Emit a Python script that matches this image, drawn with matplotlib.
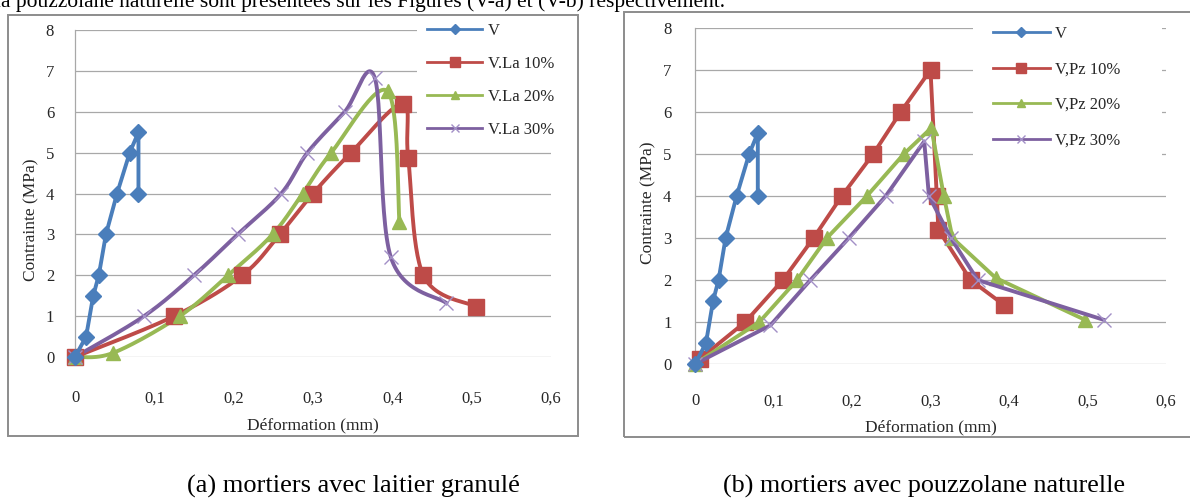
import numpy as np
import matplotlib
matplotlib.use("Agg")
import matplotlib.pyplot as plt
from matplotlib.lines import Line2D
from matplotlib.patches import Rectangle

plt.rcParams['font.family'] = ['Liberation Serif', 'DejaVu Serif']

# ---------------- data ----------------
# control mortar (same in both panels)
v_x = [0.0, 0.014, 0.023, 0.030, 0.039, 0.053, 0.069, 0.080, 0.080]
v_y = [0.0, 0.5, 1.5, 2.0, 3.0, 4.0, 5.0, 5.5, 4.0]

# panel (a) : laitier granulé
la10_x = [0.0, 0.125, 0.211, 0.258, 0.300, 0.348, 0.413, 0.420, 0.439, 0.506]
la10_y = [0.0, 1.0, 2.0, 3.0, 4.0, 5.0, 6.2, 4.87, 2.0, 1.23]
la20_x = [0.0, 0.048, 0.132, 0.193, 0.249, 0.287, 0.323, 0.394, 0.409]
la20_y = [0.0, 0.1, 1.0, 2.0, 3.0, 4.0, 5.0, 6.5, 3.3]
la30_x = [0.0, 0.087, 0.150, 0.205, 0.260, 0.293, 0.340, 0.378, 0.398, 0.468]
la30_y = [0.0, 1.0, 2.0, 3.0, 4.0, 5.0, 6.0, 6.82, 2.45, 1.32]

# panel (b) : pouzzolane naturelle
pz10_x = [0.006, 0.064, 0.112, 0.151, 0.187, 0.227, 0.262, 0.300, 0.308, 0.310, 0.351, 0.394]
pz10_y = [0.12, 1.0, 2.0, 3.0, 4.0, 5.0, 6.0, 7.0, 4.0, 3.2, 2.0, 1.4]
pz20_x = [0.0, 0.082, 0.130, 0.168, 0.219, 0.266, 0.301, 0.317, 0.328, 0.383, 0.497]
pz20_y = [0.0, 1.0, 2.0, 3.0, 4.0, 5.0, 5.62, 4.0, 3.0, 2.05, 1.05]
pz30_x = [0.0, 0.096, 0.147, 0.196, 0.243, 0.292, 0.298, 0.326, 0.360, 0.521]
pz30_y = [0.0, 0.92, 2.0, 3.0, 4.0, 5.3, 4.0, 3.0, 2.0, 1.05]

labels_a = ['V', 'V.La 10%', 'V.La 20%', 'V.La 30%']
labels_b = ['V', 'V,Pz 10%', 'V,Pz 20%', 'V,Pz 30%']
xticks = [0, 0.1, 0.2, 0.3, 0.4, 0.5, 0.6]
xticklabels = ['0', '0,1', '0,2', '0,3', '0,4', '0,5', '0,6']
yticks = [0, 1, 2, 3, 4, 5, 6, 7, 8]

BLUE = '#4A7EBB'
RED = '#BE4B48'
GREEN = '#98B954'
PURPLE = '#7D60A0'
XMARK = '#A28FC6'
GRID = '#A8A8A8'
FRAME = '#8C8C8C'
TXT = '#262626'


def smooth(xs, ys, sx, sy, n=30):
    """Excel-like smoothed curve (Catmull-Rom bezier) computed in screen-ish space."""
    P = np.column_stack([np.asarray(xs) * sx, np.asarray(ys) * sy])
    m = len(P)
    out = [P[0]]
    for i in range(m - 1):
        p0 = P[i - 1] if i > 0 else P[i]
        p1 = P[i]
        p2 = P[i + 1]
        p3 = P[i + 2] if i + 2 < m else P[i + 1]
        c1 = p1 + (p2 - p0) / 6.0
        c2 = p2 - (p3 - p1) / 6.0
        t = np.linspace(0, 1, n)[1:, None]
        seg = ((1 - t) ** 3) * p1 + 3 * ((1 - t) ** 2) * t * c1 + 3 * (1 - t) * t ** 2 * c2 + t ** 3 * p2
        out.extend(seg)
    out = np.array(out)
    return out[:, 0] / sx, out[:, 1] / sy


W, H = 1190, 500
fig = plt.figure(figsize=(W / 100, H / 100), dpi=100)


def fx(px):
    return px / W


def fy(py):
    return 1 - py / H


# frames
fig.patches.append(Rectangle((fx(8), fy(436)), fx(578 - 8), (436 - 15) / H,
                             transform=fig.transFigure, fill=False,
                             edgecolor=FRAME, lw=1.4))
fig.patches.append(Rectangle((fx(624), fy(437)), fx(1200 - 624), (437 - 12) / H,
                             transform=fig.transFigure, fill=False,
                             edgecolor=FRAME, lw=1.4, clip_on=False))

# top (cut) text line
fig.text(fx(-5), fy(7), "la pouzzolane naturelle sont présentées sur les Figures (V-a) et (V-b) respectivement.",
         fontsize=15.5, color='black', va='baseline', ha='left')

# captions
fig.text(fx(353), fy(486), "(a) mortiers avec laitier granulé", fontsize=19,
         ha='center', va='center', color='black')
fig.text(fx(924), fy(486), "(b) mortiers avec pouzzolane naturelle", fontsize=18.8,
         ha='center', va='center', color='black')


def setup(ax, xpad, ypad, xlab_y, ylab_x, ylab_y):
    ax.set_xlim(0, 0.6)
    ax.set_ylim(0, 8)
    ax.set_xticks(xticks)
    ax.set_xticklabels(xticklabels)
    ax.set_yticks(yticks)
    ax.tick_params(axis='x', length=0, pad=xpad, labelsize=12, labelcolor=TXT)
    ax.tick_params(axis='y', length=0, pad=ypad, labelsize=12, labelcolor=TXT)
    for s in ['top', 'right', 'bottom']:
        ax.spines[s].set_visible(False)
    ax.spines['left'].set_color(GRID)
    ax.spines['left'].set_linewidth(0.9)
    ax.yaxis.grid(True, color=GRID, lw=0.9)
    ax.set_axisbelow(True)
    ax.patch.set_alpha(0)
    ax.set_xlabel('Déformation (mm)', fontsize=12.5, color=TXT)
    ax.set_ylabel('Contrainte (MPa)', fontsize=12.5, color=TXT)
    ax.xaxis.set_label_coords(0.5, xlab_y)
    ax.yaxis.set_label_coords(ylab_x, ylab_y)


# ---------- panel (a) ----------
axA = fig.add_axes([fx(75), fy(357), (551 - 75) / W, (357 - 30) / H])
setup(axA, xpad=24, ypad=15, xlab_y=-0.185, ylab_x=-0.075, ylab_y=0.42)
sxA, syA = 793.0, 40.9
LW = 2.8
axA.plot(v_x, v_y, color=BLUE, lw=LW, marker='D', ms=8.5, mec=BLUE, mfc=BLUE, clip_on=False, zorder=6)
for xs, ys, col, mk, ms in [(la10_x, la10_y, RED, 's', 11),
                            (la20_x, la20_y, GREEN, '^', 10.5),
                            (la30_x, la30_y, PURPLE, None, 0)]:
    cx, cy = smooth(xs, ys, sxA, syA)
    axA.plot(cx, cy, color=col, lw=LW, clip_on=False, zorder=4)
    if mk:
        axA.plot(xs, ys, ls='none', marker=mk, ms=ms, color=col, clip_on=False, zorder=5)
    else:
        axA.plot(xs, ys, ls='none', marker='x', ms=10, mew=1.0, color=XMARK, clip_on=False, zorder=5)

# ---------- panel (b) ----------
axB = fig.add_axes([fx(695), fy(364), (1166 - 695) / W, (364 - 28) / H])
setup(axB, xpad=21, ypad=17, xlab_y=-0.165, ylab_x=-0.083, ylab_y=0.48)
axB.plot(v_x, v_y, color=BLUE, lw=LW, marker='D', ms=8.5, mec=BLUE, mfc=BLUE, clip_on=False, zorder=6)
axB.plot(pz10_x, pz10_y, color=RED, lw=LW, marker='s', ms=11, clip_on=False, zorder=5)
axB.plot(pz20_x, pz20_y, color=GREEN, lw=LW, marker='^', ms=10.5, clip_on=False, zorder=5)
axB.plot(pz30_x, pz30_y, color=PURPLE, lw=LW, clip_on=False, zorder=5)
axB.plot(pz30_x, pz30_y, ls='none', marker='x', ms=10, mew=1.0, color=XMARK, clip_on=False, zorder=5)

# ---------- legends (white boxes hide gridlines) ----------
fig.patches.append(Rectangle((fx(417), fy(146)), fx(576 - 417), (146 - 16) / H,
                             transform=fig.transFigure, facecolor='white', edgecolor='none', zorder=1))
fig.patches.append(Rectangle((fx(973), fy(170)), fx(1162 - 973), (170 - 14) / H,
                             transform=fig.transFigure, facecolor='white', edgecolor='none', zorder=1))


def handles():
    return [Line2D([], [], color=BLUE, lw=2, marker='D', ms=5),
            Line2D([], [], color=RED, lw=2, marker='s', ms=7),
            Line2D([], [], color=GREEN, lw=2, marker='^', ms=6),
            Line2D([], [], color=PURPLE, lw=2, marker='x', ms=6, mew=1, mec=XMARK)]


legA = fig.legend(handles(), labels_a, loc='upper left', bbox_to_anchor=(fx(427), fy(23)),
                  frameon=False, fontsize=12, handlelength=3.3, handletextpad=0.35,
                  labelspacing=1.02, borderpad=0, borderaxespad=0)
legB = fig.legend(handles(), labels_b, loc='upper left', bbox_to_anchor=(fx(993), fy(26)),
                  frameon=False, fontsize=12, handlelength=3.4, handletextpad=0.3,
                  labelspacing=1.17, borderpad=0, borderaxespad=0)
for leg in (legA, legB):
    for t in leg.get_texts():
        t.set_color(TXT)

fig.savefig('out.png', dpi=100)
